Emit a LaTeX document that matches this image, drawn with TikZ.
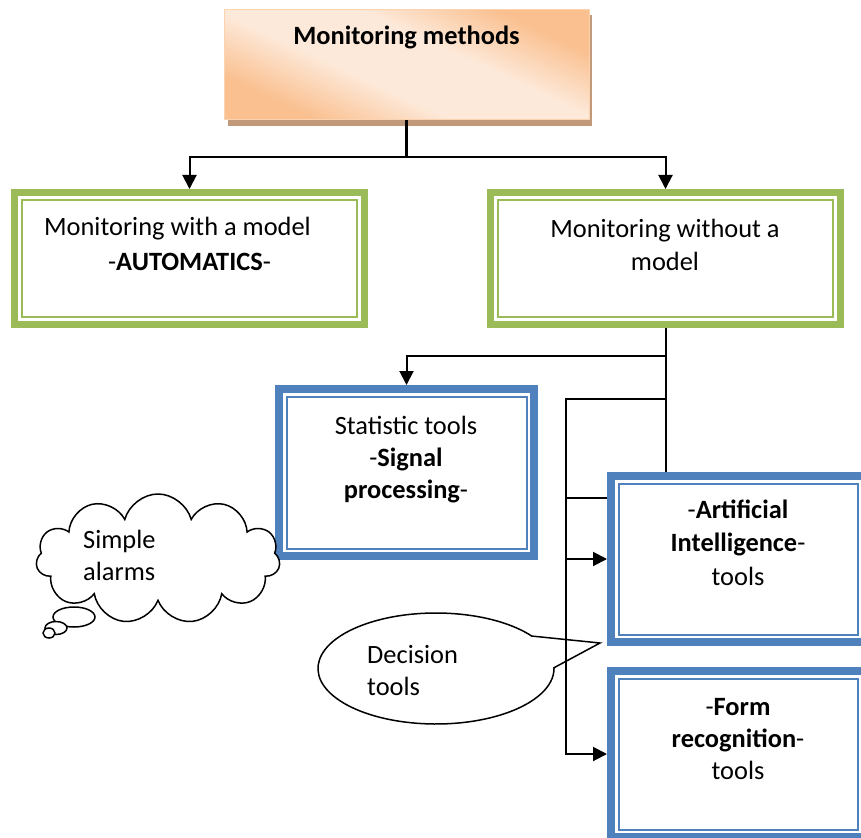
\documentclass[tikz,border=0pt]{standalone}
\usepackage{fontspec}
\setmainfont{Carlito}
\usetikzlibrary{arrows.meta,shapes.geometric,shapes.symbols,shapes.callouts,calc}
\definecolor{grn}{HTML}{9BBB59}
\definecolor{blu}{HTML}{4F81BD}
\definecolor{pkD}{HTML}{FAC090}
\definecolor{pkL}{HTML}{FDE9D9}
\definecolor{shd}{HTML}{C09A7A}
\pgfdeclarehorizontalshading{peachy}{100bp}{color(0bp)=(pkD); color(27bp)=(pkD); color(42bp)=(pkL); color(58bp)=(pkL); color(73bp)=(pkD); color(100bp)=(pkD)}
\tikzset{
  dbox/.style 2 args={rectangle, draw=#1, line width=#2, fill=white, inner sep=0pt,
    path picture={\draw[#1, line width=2pt] ([shift={(7.5pt,-7.5pt)}]path picture bounding box.north west) rectangle ([shift={(-7.5pt,7.5pt)}]path picture bounding box.south east);}},
  greenbox/.style={dbox={grn}{7pt}},
  bluebox/.style={dbox={blu}{8pt}},
  topbox/.style={rectangle, draw=pkD!70, line width=1pt, shading=peachy, shading angle=65},
  txt/.style={align=center, anchor=base, inner sep=0pt, font=\fontsize{26.4}{32.5}\selectfont},
  conn/.style={line width=2pt, draw=black},
  arr/.style={conn, -{Triangle[length=14pt,width=14pt]}},
  bubble/.style={draw=black, fill=white, line width=1.5pt}
}
\begin{document}
\begin{tikzpicture}[x=1pt,y=-1pt]
\useasboundingbox (0,0) rectangle (861,837);
\clip (0,0) rectangle (861,837);

% top box with shadow
\fill[shd] (228,15) rectangle (592,126);
\node[topbox, minimum width=365pt, minimum height=110pt] (top) at (406.5,64.5) {};
\node[txt, font=\fontsize{26.4}{32.5}\selectfont\bfseries] (toptxt) at (406.5,45) {Monitoring methods};

% green boxes
\node[greenbox, minimum width=350pt, minimum height=132pt] (lg) at (189.5,258.5) {};
\node[greenbox, minimum width=350pt, minimum height=132pt] (rg) at (665.5,258.5) {};
\node[txt, font=\fontsize{26.4}{35}\selectfont] (lgt) at (177.5,270) {Monitoring with a model\\\hspace*{24pt}-\textbf{AUTOMATICS}-};
\node[txt, font=\fontsize{26.4}{33}\selectfont] (rgt) at (665,270) {Monitoring without a\\model};

% blue boxes
\node[bluebox, minimum width=255pt, minimum height=167pt] (st) at (406.5,472.5) {};
\node[bluebox, minimum width=254pt, minimum height=166pt] (ai) at (738,559) {};
\node[bluebox, minimum width=254pt, minimum height=166pt] (fr) at (738,754) {};
\node[txt, font=\fontsize{26.4}{32}\selectfont] (stt) at (406,498) {Statistic tools\\-\textbf{Signal}\\\textbf{processing}-};
\node[txt, font=\fontsize{26.4}{33.5}\selectfont] (ait) at (738,585) {-\textbf{Artificial}\\\textbf{Intelligence}-\\tools};
\node[txt, font=\fontsize{26.4}{32}\selectfont] (frt) at (738,779) {-\textbf{Form}\\\textbf{recognition}-\\tools};

% cloud with thought bubbles
\node[cloud, bubble, cloud puffs=11, cloud ignores aspect, minimum width=244pt, minimum height=130pt] (cl) at (158,559) {};
\node[ellipse, bubble, minimum width=42pt, minimum height=20pt, inner sep=0pt] (cb1) at (74,617) {};
\node[ellipse, bubble, minimum width=22pt, minimum height=13pt, inner sep=0pt] (cb2) at (56,628) {};
\node[ellipse, bubble, minimum width=12pt, minimum height=10pt, inner sep=0pt] (cb3) at (49,633) {};
\node[txt, align=left, anchor=base west, font=\fontsize{26.4}{32}\selectfont] (clt) at (83,580) {Simple\\alarms};

% speech bubble
\node[ellipse callout, bubble, minimum width=236pt, minimum height=111pt,
      callout absolute pointer={(600,643)}, callout pointer arc=35] (dc) at (436,668.5) {};
\node[txt, align=left, anchor=base west, font=\fontsize{26.4}{32}\selectfont] (dct) at (367,695) {Decision\\tools};

% connectors
\coordinate (j0) at (406.5,157);
\draw[conn, line width=2.5pt] (top.south) -- (j0);
\draw[arr] (j0) -| (lg.north);
\draw[arr] (j0) -| (rg.north);

\coordinate (b1) at (665.5,356);
\coordinate (b2) at (665.5,399);
\coordinate (b3) at (566,399);
\draw[conn] (rg.south) -- (rg.south |- ai.north);
\draw[arr] (b1) -| (st.north);
\draw[arr] (b2) -- (b3) |- (fr.west);
\draw[conn] (b3 |- 0,498) -- (ai.west |- 0,498);
\draw[arr] (b3 |- ai.west) -- (ai.west);
\end{tikzpicture}
\end{document}
